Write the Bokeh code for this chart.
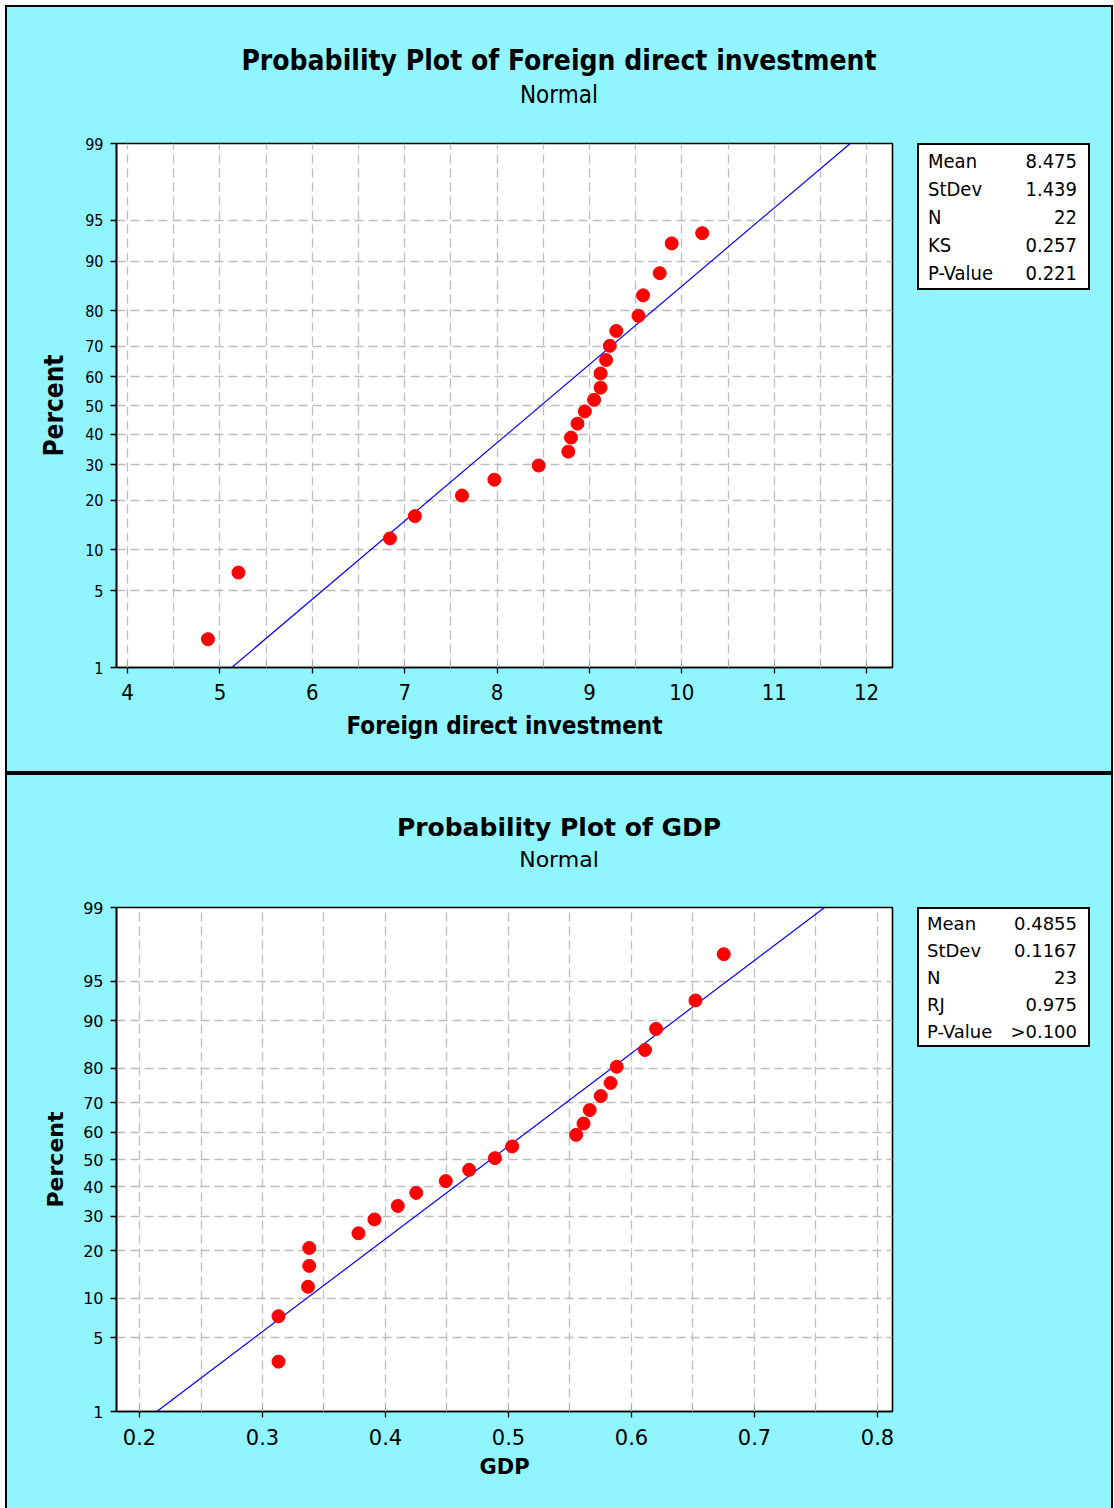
from statistics import NormalDist
from bokeh.plotting import figure
from bokeh.models import FixedTicker, SingleIntervalTicker, Range1d, ColumnDataSource, Div
from bokeh.layouts import column, row
from bokeh.embed import file_html
from bokeh.resources import INLINE

# ---------------- data ----------------
fdi_values = [4.87, 5.20, 6.84, 7.11, 7.62, 7.97, 8.45, 8.77, 8.80, 8.87, 8.95,
              9.05, 9.12, 9.12, 9.18, 9.22, 9.29, 9.53, 9.58, 9.76, 9.89, 10.22]
fdi_percent = [1.9, 6.9, 11.9, 16.3, 21.2, 25.5, 29.7, 34.1, 38.8, 43.6, 47.9,
               52.0, 56.3, 61.2, 65.7, 70.2, 74.6, 78.7, 83.6, 88.0, 92.5, 93.7]
fdi_mean, fdi_sd = 8.475, 1.439
fdi_stat_names = ["Mean", "StDev", "N", "KS", "P-Value"]
fdi_stat_values = ["8.475", "1.439", "22", "0.257", "0.221"]

gdp_values = [0.313, 0.313, 0.337, 0.338, 0.338, 0.378, 0.391, 0.410, 0.425, 0.449,
              0.468, 0.489, 0.503, 0.555, 0.561, 0.566, 0.575, 0.583, 0.588, 0.611,
              0.620, 0.652, 0.675]
gdp_percent = [3.1, 7.4, 12.0, 16.3, 20.7, 24.8, 29.0, 33.4, 37.9, 42.1, 46.2, 50.5,
               54.8, 59.0, 63.0, 67.6, 72.1, 76.0, 80.4, 84.4, 88.6, 92.9, 97.1]
gdp_mean, gdp_sd = 0.4855, 0.1167
gdp_stat_names = ["Mean", "StDev", "N", "RJ", "P-Value"]
gdp_stat_values = ["0.4855", "0.1167", "23", "0.975", ">0.100"]

percent_ticks = [1, 5, 10, 20, 30, 40, 50, 60, 70, 80, 90, 95, 99]

CYAN = "#91F5FF"
ND = NormalDist()
PANEL_W = 1104


def zq(pct):
    return round(ND.inv_cdf(pct / 100.0), 6)


def title_div(title, font, s, h):
    lh = 40
    html = (f'<div style="position:relative;width:{PANEL_W}px;height:{h}px;background:{CYAN};">'
            f'<div style="position:absolute;left:0;top:{s["ty"] - lh // 2}px;width:{PANEL_W}px;'
            f'height:{lh}px;line-height:{lh}px;text-align:center;font-family:\'{font}\';'
            f'font-weight:bold;font-size:{s["title"]}px;color:#000;white-space:nowrap;">{title}</div>'
            f'<div style="position:absolute;left:0;top:{s["sy"] - lh // 2}px;width:{PANEL_W}px;'
            f'height:{lh}px;line-height:{lh}px;text-align:center;font-family:\'{font}\';'
            f'font-size:{s["sub"]}px;color:#000;white-space:nowrap;">Normal</div></div>')
    return Div(text=html, width=PANEL_W, height=h, margin=0,
               styles={"background-color": CYAN})


def stats_div(names, vals, font, s, w, h):
    bw, bh = 173, s["box_h"]
    lh = 22
    rows = ""
    for i, (n, v) in enumerate(zip(names, vals)):
        top = s["row0"] - 2 + i * s["row_step"] - lh // 2
        rows += (f'<div style="position:absolute;left:{s["name_x"]}px;top:{top}px;height:{lh}px;'
                 f'line-height:{lh}px;white-space:nowrap;">{n}</div>'
                 f'<div style="position:absolute;right:{s["val_r"]}px;top:{top}px;height:{lh}px;'
                 f'line-height:{lh}px;white-space:nowrap;text-align:right;">{v}</div>')
    html = (f'<div style="position:relative;width:{w}px;height:{h}px;background:{CYAN};">'
            f'<div style="position:absolute;left:13px;top:12px;width:{bw}px;height:{bh}px;'
            f'box-sizing:border-box;border:2px solid #000;background:#fff;'
            f'font-family:\'{font}\';font-size:{s["stat"]}px;color:#000;">{rows}</div></div>')
    return Div(text=html, width=w, height=h, margin=0, styles={"background-color": CYAN})


def make_fig(xlabel, xs, pcts, mean, sd, xr, major, grid_step, font, s, fh, fig_h):
    zlo, zhi = zq(1), zq(99)
    top_b = 12
    p = figure(frame_width=776, frame_height=fh, output_backend="svg",
               toolbar_location=None, x_range=Range1d(*xr), y_range=Range1d(zlo, zhi),
               min_border_left=109, min_border_right=12, min_border_top=top_b,
               min_border_bottom=fig_h - top_b - fh, background_fill_color="white",
               border_fill_color=CYAN, outline_line_color="black",
               outline_line_width=1.6, title=None, margin=0)

    n_grid = int(round((major[1] - major[0]) / grid_step))
    grid_ticks = [round(major[0] + i * grid_step, 4) for i in range(n_grid + 1)]
    p.xgrid.ticker = FixedTicker(ticks=grid_ticks)
    p.yaxis.ticker = FixedTicker(ticks=[zq(v) for v in percent_ticks])
    p.yaxis.major_label_overrides = {zq(v): str(v) for v in percent_ticks}
    for g in (p.xgrid, p.ygrid):
        g.grid_line_color = "#BDBDBD"
        g.grid_line_dash = "9 5"
        g.grid_line_width = 1.3

    p.xaxis.ticker = SingleIntervalTicker(interval=grid_step * 2, num_minor_ticks=2)
    for ax in (p.xaxis, p.yaxis):
        ax.axis_line_color = "black"
        ax.axis_line_width = 1.6
        ax.major_tick_line_color = "black"
        ax.major_tick_line_width = 1.3
        ax.major_tick_in = 0
        ax.major_tick_out = 6
        ax.major_label_text_font = font
        ax.major_label_text_color = "black"
        ax.axis_label_text_font = font
        ax.axis_label_text_font_style = "bold"
        ax.axis_label_text_color = "black"
    p.xaxis.minor_tick_in = 6
    p.xaxis.minor_tick_out = 0
    p.xaxis.minor_tick_line_color = "#A8A8A8"
    p.yaxis.minor_tick_line_color = None
    p.xaxis.major_label_text_font_size = s["xtick"]
    p.yaxis.major_label_text_font_size = s["ytick"]
    p.xaxis.axis_label = xlabel
    p.yaxis.axis_label = "Percent"
    p.xaxis.axis_label_text_font_size = s["xlabel"]
    p.yaxis.axis_label_text_font_size = s["ylabel"]
    p.xaxis.major_label_standoff = s["xstand"]
    p.yaxis.major_label_standoff = 7
    p.xaxis.axis_label_standoff = s["xlstand"]
    p.yaxis.axis_label_standoff = s["ylstand"]

    p.line([mean + sd * zlo, mean + sd * zhi], [zlo, zhi], line_color="#0000FF", line_width=1.2)
    src = ColumnDataSource(dict(x=xs, z=[ND.inv_cdf(v / 100.0) for v in pcts]))
    p.scatter("x", "z", source=src, size=13, fill_color="#FF0000", line_color="#FF0000")
    return p


# ---------- top panel ----------
TOP_FONT = "DejaVu Sans Condensed"
ts = dict(title=28, sub=24, ty=54, sy=88, xtick="22px", ytick="16px", xlabel="24px",
          ylabel="26px", xstand=10, xlstand=9, ylstand=13,
          box_h=147, row0=18, row_step=28, stat=20, name_x=9, val_r=11)
top_h, top_title_h = 764, 124
fig1 = make_fig("Foreign direct investment", fdi_values, fdi_percent, fdi_mean, fdi_sd,
                (3.88, 12.28), (4, 12), 0.5, TOP_FONT, ts, 524, top_h - top_title_h)
panel1 = column(title_div("Probability Plot of Foreign direct investment", TOP_FONT, ts, top_title_h),
                row(fig1, stats_div(fdi_stat_names, fdi_stat_values, TOP_FONT, ts,
                                    PANEL_W - 897, top_h - top_title_h), spacing=0, margin=0,
                    styles={"background-color": CYAN}),
                spacing=0, margin=(2, 2, 2, 2), styles={"background-color": CYAN})

# ---------- bottom panel ----------
BOT_FONT = "DejaVu Sans"
bs = dict(title=25, sub=22, ty=53, sy=85, xtick="21px", ytick="16px", xlabel="21px",
          ylabel="22px", xstand=11, xlstand=7, ylstand=12,
          box_h=140, row0=17, row_step=27, stat=18, name_x=8, val_r=11)
bot_h, bot_title_h = 733, 120
fig2 = make_fig("GDP", gdp_values, gdp_percent, gdp_mean, gdp_sd,
                (0.1813, 0.8122), (0.2, 0.8), 0.05, BOT_FONT, bs, 504, bot_h - bot_title_h)
panel2 = column(title_div("Probability Plot of GDP", BOT_FONT, bs, bot_title_h),
                row(fig2, stats_div(gdp_stat_names, gdp_stat_values, BOT_FONT, bs,
                                    PANEL_W - 897, bot_h - bot_title_h), spacing=0, margin=0,
                    styles={"background-color": CYAN}),
                spacing=0, margin=(2, 2, 0, 2), styles={"background-color": CYAN})

layout = column(panel1, panel2, spacing=0, margin=(5, 0, 0, 5),
                styles={"background-color": "black"})
open("out.html", "w").write(file_html(layout, INLINE))
